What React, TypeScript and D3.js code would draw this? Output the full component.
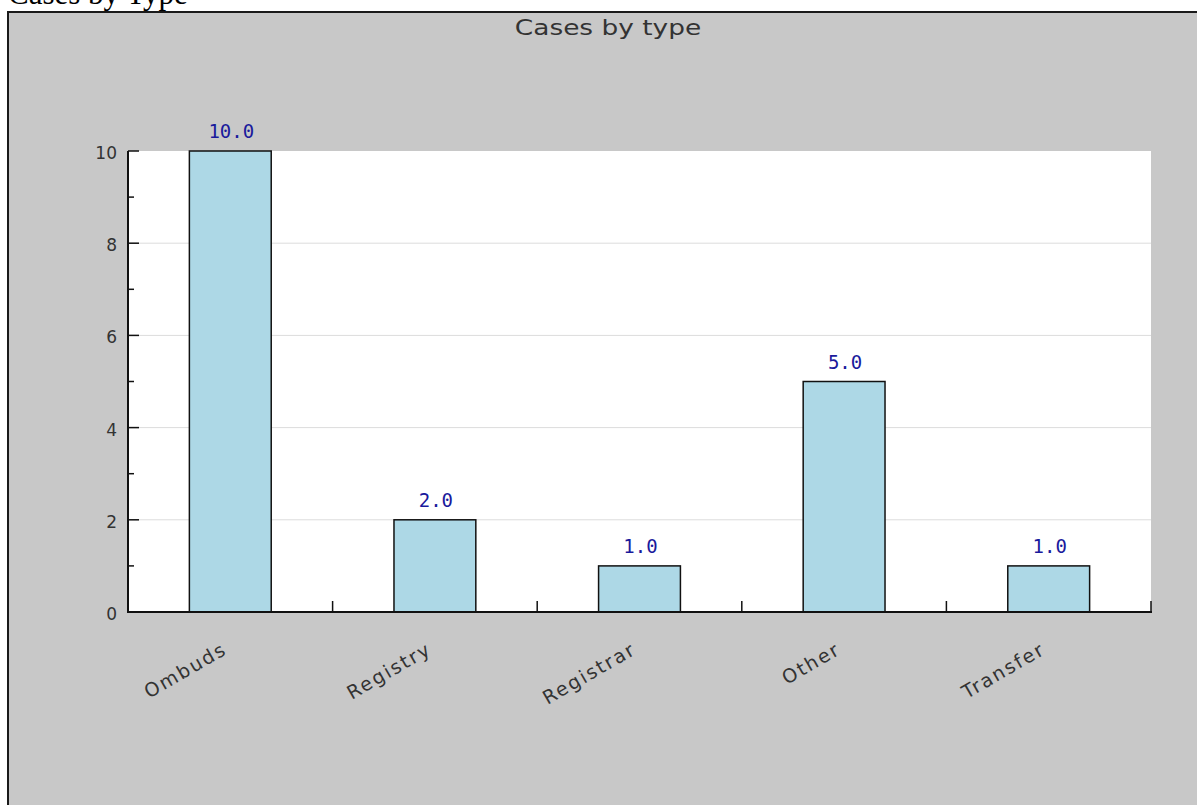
import React from "react";
import * as d3 from "d3";

const categories = ["Ombuds", "Registry", "Registrar", "Other", "Transfer"];
const values = [10, 2, 1, 5, 1];
const yTicks = [0, 2, 4, 6, 8, 10];
const yMinorTicks = [1, 3, 5, 7, 9];
const chartTitle = "Cases by type";
const pageHeading = "Cases by Type";

export default function App() {
  const W = 1197;
  const H = 805;
  const x = d3.scaleBand<string>().domain(categories).range([128, 1151]).paddingInner(0).paddingOuter(0);
  const y = d3.scaleLinear().domain([0, 10]).range([612, 151]);
  const barW = x.bandwidth() * 0.4;
  const boundaries = categories.map((c) => (x(c) as number) + x.bandwidth());
  const sans = "'DejaVu Sans', Verdana, sans-serif";

  return (
    <div style={{ position: "absolute", left: 0, top: 0, width: W, height: H, overflow: "hidden" }}>
      <svg width={W} height={H} style={{ display: "block" }}>
        <text x={8} y={4} fontFamily="'Liberation Serif', 'Times New Roman', serif" fontSize={31} fill="#000">
          {pageHeading}
        </text>
        <rect x={8} y={12} width={W + 20} height={H + 20} fill="#c8c8c8" stroke="#1a1a1a" strokeWidth={2} />
        <text x={608} y={35} textAnchor="middle" fontFamily={sans} fontSize={22} fill="#333" transform="translate(608,0) scale(1.2,1) translate(-608,0)">
          {chartTitle}
        </text>
        <rect x={128} y={151} width={1151 - 128} height={612 - 151} fill="#fff" />
        {yTicks.filter((t) => t > 0 && t < 10).map((t) => (
          <line key={"g" + t} x1={128} x2={1151} y1={y(t)} y2={y(t)} stroke="#dcdcdc" strokeWidth={1} />
        ))}
        {categories.map((c, i) => {
          const cx = (x(c) as number) + x.bandwidth() / 2;
          return (
            <g key={c}>
              <rect x={cx - barW / 2} y={y(values[i])} width={barW} height={y(0) - y(values[i])} fill="#add8e6" stroke="#111" strokeWidth={1.5} />
              <text x={cx + 1} y={y(values[i]) - 13} textAnchor="middle" fontFamily="'DejaVu Sans Mono', monospace" fontSize={19} fill="#1a1a9c">
                {values[i].toFixed(1)}
              </text>
              <text x={0} y={0} textAnchor="end" fontFamily={sans} fontSize={19} letterSpacing={2} fill="#333" transform={`translate(${cx - 2},653) rotate(-30)`}>
                {c}
              </text>
            </g>
          );
        })}
        <line x1={128} x2={128} y1={151} y2={612} stroke="#111" strokeWidth={2} />
        {yTicks.map((t) => (
          <g key={"t" + t}>
            <line x1={128} x2={139} y1={y(t)} y2={y(t)} stroke="#111" strokeWidth={1.5} />
            <text x={117} y={y(t) + 8} textAnchor="end" fontFamily={sans} fontSize={17} fill="#333">
              {t}
            </text>
          </g>
        ))}
        {yMinorTicks.map((t) => (
          <line key={"m" + t} x1={128} x2={134} y1={y(t)} y2={y(t)} stroke="#111" strokeWidth={1.5} />
        ))}
        <line x1={127} x2={1152} y1={612} y2={612} stroke="#111" strokeWidth={2} />
        {boundaries.map((b, i) => (
          <line key={"b" + i} x1={b} x2={b} y1={601} y2={612} stroke="#111" strokeWidth={1.5} />
        ))}
      </svg>
    </div>
  );
}
